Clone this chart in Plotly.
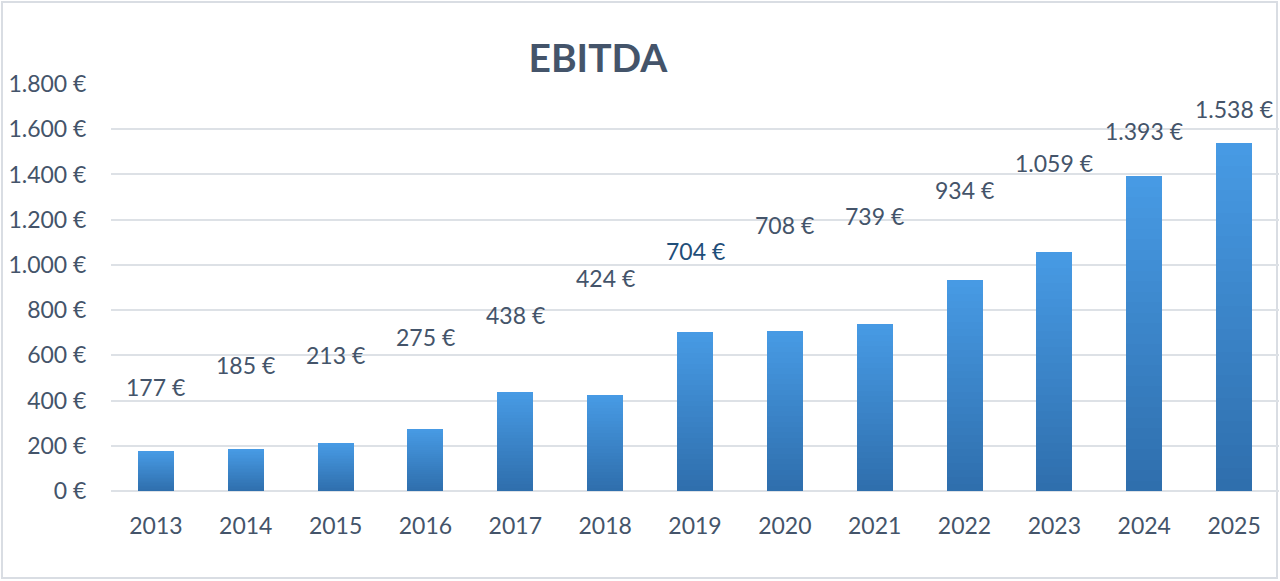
import plotly.graph_objects as go

years = ["2013", "2014", "2015", "2016", "2017", "2018", "2019",
         "2020", "2021", "2022", "2023", "2024", "2025"]
ebitda = [177, 185, 213, 275, 438, 424, 704, 708, 739, 934, 1059, 1393, 1538]
# heights (data units) where the data labels sit in the reference
label_y = [460, 557, 601, 681, 778, 942, 1061, 1176, 1216, 1331, 1451, 1592, 1689]
y_ticks = [0, 200, 400, 600, 800, 1000, 1200, 1400, 1600, 1800]

FONT = "Lato"
TXT = "#44546A"
TOP = (0x47, 0x9A, 0xE4)
BOT = (0x2F, 0x6F, 0xAD)
N = 30
FS = 23


def fmt(v):
    return f"{v:,}".replace(",", ".") + " €"


fig = go.Figure()
# vertical gradient: each bar split into N stacked slices
for i in range(N):
    t = i / (N - 1)
    c = tuple(round(BOT[k] + (TOP[k] - BOT[k]) * t) for k in range(3))
    fig.add_trace(go.Bar(
        x=years, y=[v / N for v in ebitda],
        marker=dict(color="rgb(%d,%d,%d)" % c, line=dict(width=0)),
        width=0.4, hoverinfo="skip", showlegend=False,
    ))

for idx, (yr, v, ly) in enumerate(zip(years, ebitda, label_y)):
    fig.add_annotation(
        x=idx, y=ly, text=fmt(v), showarrow=False,
        font=dict(family=FONT, size=FS, color="#1F4E79" if yr == "2019" else TXT),
        xanchor="center", yanchor="middle",
    )

L, R, T, B = 111, 1, 84, 90
pw, ph = 1280 - L - R, 581 - T - B
fig.add_shape(type="rect", xref="paper", yref="paper",
              x0=(2 - L) / pw, x1=(1277 - L) / pw,
              y0=-(578 - T - ph) / ph, y1=(ph + T - 2) / ph,
              line=dict(color="#D9DDE3", width=2), fillcolor="rgba(0,0,0,0)",
              layer="below")

fig.update_layout(
    barmode="stack",
    width=1280, height=581,
    margin=dict(l=L, r=R, t=T, b=B),
    paper_bgcolor="white", plot_bgcolor="white",
    font=dict(family=FONT, size=FS, color=TXT),
    title=dict(text="<b>EBITDA</b>", x=598 / 1280, xanchor="center",
               y=1 - 58 / 581, yanchor="middle", xref="container", yref="container",
               font=dict(family=FONT, size=39, color=TXT)),
    bargap=0.6,
)
fig.update_xaxes(type="category", categoryorder="array", categoryarray=years,
                 range=[-0.5, len(years) - 0.5],
                 showgrid=False, showline=False, zeroline=False,
                 ticks="outside", ticklen=14, tickcolor="rgba(0,0,0,0)",
                 tickfont=dict(family=FONT, size=FS, color=TXT))
fig.update_yaxes(range=[0, 1800], tickvals=y_ticks, ticktext=[fmt(v) for v in y_ticks],
                 showgrid=True, gridcolor="#DDE1E6", gridwidth=2,
                 zeroline=True, zerolinecolor="#DDE1E6", zerolinewidth=2,
                 ticks="outside", ticklen=19, tickcolor="rgba(0,0,0,0)",
                 tickfont=dict(family=FONT, size=FS, color=TXT))

fig.write_html("out.html")
